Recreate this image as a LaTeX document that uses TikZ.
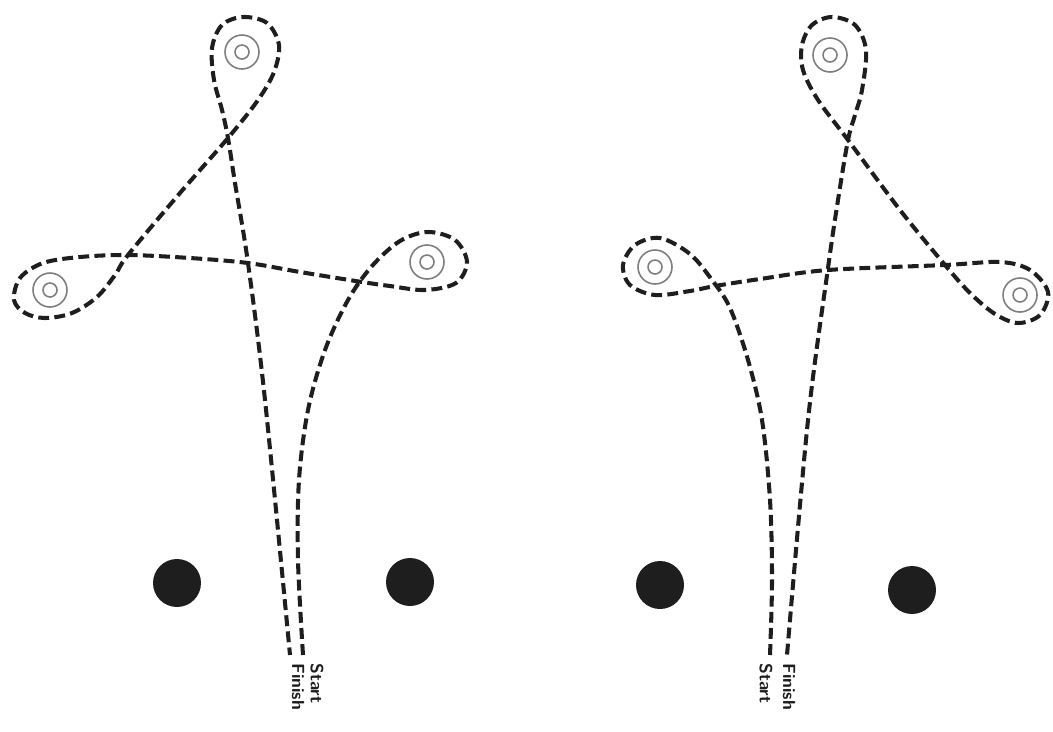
\documentclass[tikz,border=0pt]{standalone}
\usepackage{xcolor}
\usepackage{tikz}
\usetikzlibrary{calc}
\definecolor{inkblack}{HTML}{1E1E1E}
\definecolor{ringgray}{HTML}{7E7E7E}

\begin{document}
\begin{tikzpicture}[x=0.02cm,y=-0.02cm,
    trail/.style={inkblack,line width=2.3pt,dash pattern=on 6.2pt off 3pt},
    post/.style={circle,fill=inkblack,minimum size=0.96cm,inner sep=0pt},
    tag/.style={rotate=-90,anchor=west,inner sep=0pt,font=\sffamily\bfseries\fontsize{10}{12}\selectfont,text=inkblack}]
  \useasboundingbox (0,0) rectangle (1053,731);
  % targets
  \foreach \cx/\cy [count=\i] in {242/52, 50/290, 427/262, 830/55, 655/267, 1020/295} {
    \coordinate (t\i) at (\cx,\cy);
    \draw[ringgray,line width=0.9pt] (t\i) circle[radius=7] (t\i) circle[radius=17];
  }
  % posts
  \node[post] (p1) at (177,583) {};
  \node[post] (p2) at (410,582) {};
  \node[post] (p3) at (660,585) {};
  \node[post] (p4) at (912,590) {};
  % left course
  \draw[trail] plot[smooth,tension=0.55] coordinates {
    (303,655) (298,560) (299,480) (308,410) (325,350) (348,300)
    (372,266) (400,241) (428,232) (455,240) (467,262) (456,283)
    (425,290) (390,286) (362,282) (300,272) (248,263) (190,258) (128,255)
    (80,257) (43,263) (20,278) (14,300) (25,313) (45,318) (72,313) (97,297)
    (115,275) (128,255) (180,193) (228,138) (258,100) (274,72) (279,45)
    (267,23) (243,17) (222,25) (212,48) (214,80) (222,110) (228,138)
    (235,183) (248,263) (265,400) (290,655)};
  % right course
  \draw[trail] plot[smooth,tension=0.55] coordinates {
    (770,655) (772,580) (770,500) (762,420) (748,360) (730,308) (712,280)
    (690,254) (660,238) (635,245) (623,265) (630,285) (655,295)
    (690,291) (715,286) (760,279) (828,270) (945,265) (1000,262) (1030,270)
    (1048,292) (1040,315) (1018,323) (995,314) (970,293) (945,265) (900,210)
    (848,140) (818,100) (803,70) (802,45) (812,25) (832,17) (855,25)
    (866,50) (862,90) (855,115) (848,140) (838,200) (828,268) (808,420)
    (787,655)};
  % labels
  \node[tag] (s1) at (317,663) {Start};
  \node[tag] (f1) at (298,663) {Finish};
  \node[tag] (s2) at (766,663) {Start};
  \node[tag] (f2) at (789,663) {Finish};
\end{tikzpicture}
\end{document}
